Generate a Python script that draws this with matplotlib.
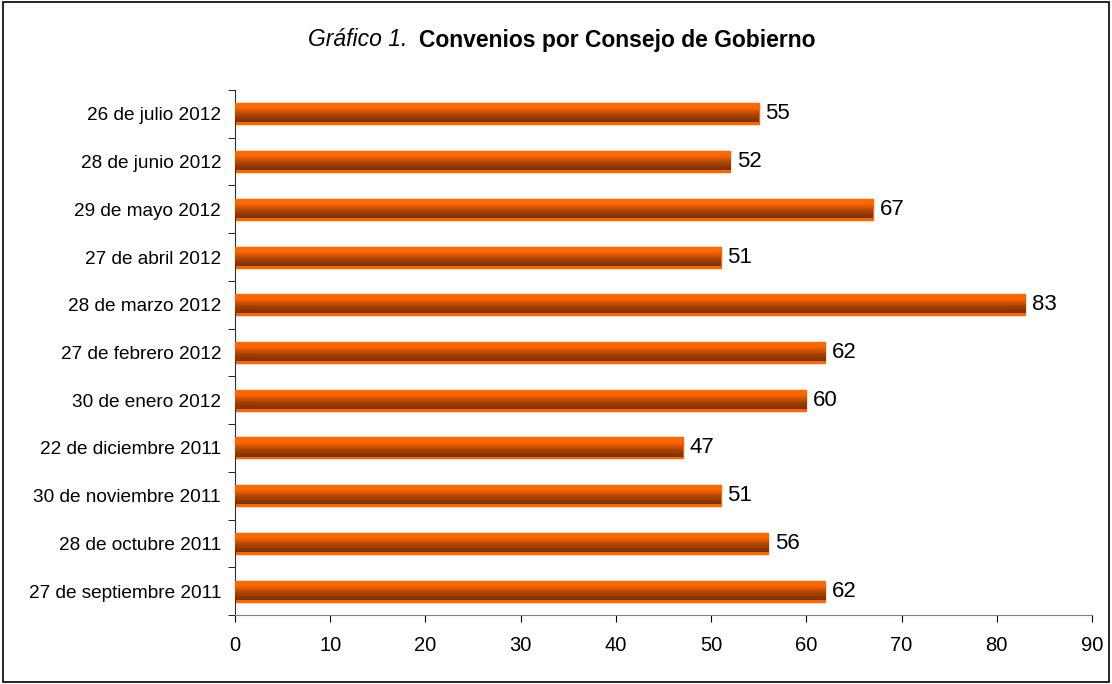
import numpy as np
import matplotlib.pyplot as plt
from matplotlib.colors import LinearSegmentedColormap
from matplotlib.patches import Rectangle

plt.rcParams['font.family'] = ['Liberation Sans', 'DejaVu Sans']

# data, bottom to top
fechas = ['27 de septiembre 2011', '28 de octubre 2011', '30 de noviembre 2011',
          '22 de diciembre 2011', '30 de enero 2012', '27 de febrero 2012',
          '28 de marzo 2012', '27 de abril 2012', '29 de mayo 2012',
          '28 de junio 2012', '26 de julio 2012']
convenios = [62, 56, 51, 47, 60, 62, 83, 51, 67, 52, 55]
xticks = [0, 10, 20, 30, 40, 50, 60, 70, 80, 90]

W, H = 1112, 684
fig = plt.figure(figsize=(W / 100, H / 100), dpi=100)
ax = fig.add_axes([235/W, 1 - 615/H, (1092 - 235)/W, (615 - 90)/H])

# border around the whole figure
fig.patches.append(Rectangle((0.003, 0.003), 0.994, 0.994, transform=fig.transFigure,
                             fill=False, edgecolor='black', linewidth=1.2))

pos = np.arange(len(fechas))
bars = ax.barh(pos, convenios, height=0.44, color='#ff6600',
               edgecolor='#ff6600', linewidth=1.0, zorder=2)

# vertical gradient: orange on top, dark brown at bottom
cmap = LinearSegmentedColormap.from_list(
    'naranja', [(0, '#783000'), (0.35, '#a64300'), (0.72, '#ff6600'), (1, '#ff6a00')])
grad = np.linspace(0, 1, 100).reshape(-1, 1)
for b in bars:
    x0, y0 = b.get_x(), b.get_y()
    w, h = b.get_width(), b.get_height()
    im = ax.imshow(grad, cmap=cmap, aspect='auto', origin='lower',
                   extent=[x0, x0 + w, y0 + h * 0.09, y0 + h], zorder=3)
    im.set_clip_path(b)
    ax.text(x0 + w + 0.7, y0 + h / 2, str(w), va='center', ha='left', fontsize=16)

ax.set_xlim(0, 90)
ax.set_ylim(-0.5, len(fechas) - 0.5)
ax.set_xticks(xticks)
ax.set_yticks(pos)
ax.set_yticklabels(fechas, fontsize=13.7)
ax.tick_params(axis='y', length=0, pad=10)
ax.set_yticks(np.arange(-0.5, len(fechas), 1), minor=True)
ax.tick_params(axis='y', which='minor', length=5, direction='out')
ax.tick_params(axis='x', labelsize=14.5, length=5, direction='out', pad=10)

for s in ['top', 'right']:
    ax.spines[s].set_visible(False)
ax.spines['left'].set_color('#303030')
ax.spines['bottom'].set_color('#808080')

fig.text(407/W, 1 - 40/H, 'Gráfico 1.', style='italic', fontsize=16.5,
         ha='right', va='center')
fig.text(419/W, 1 - 40/H, 'Convenios por Consejo de Gobierno', weight='bold',
         fontsize=16.5, ha='left', va='center')

fig.savefig('out.png', dpi=100)
